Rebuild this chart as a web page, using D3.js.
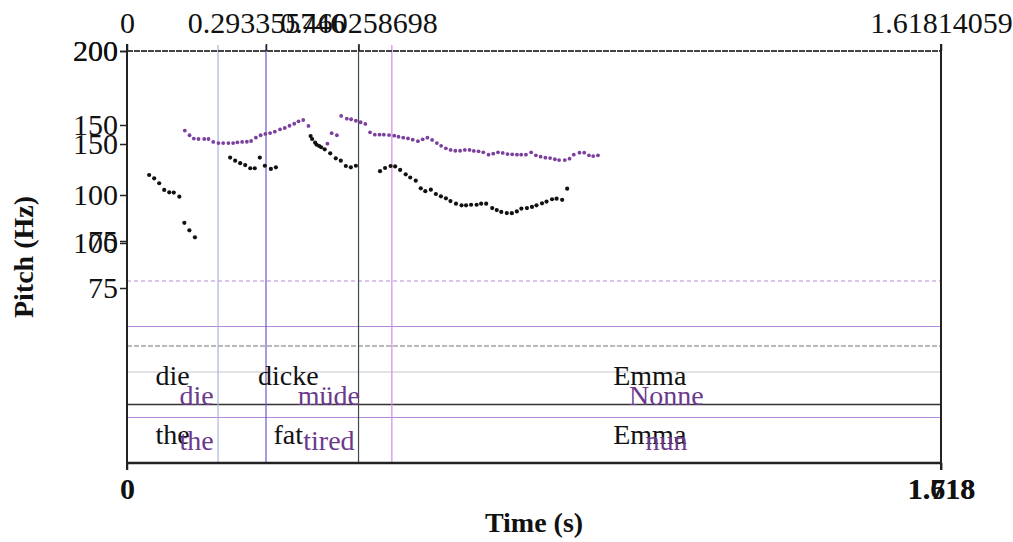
<!DOCTYPE html>
<html>
<head>
<meta charset="utf-8">
<script src="https://cdn.jsdelivr.net/npm/d3@7"></script>
<style>
body { margin: 0; background: #fff; }
text { font-family: "Liberation Serif", "Times New Roman", serif; }
</style>
</head>
<body>
<svg id="chart" width="1013" height="542"></svg>
<script>
// speaker 1 (black) pitch points
var blackTimes = [0.044,0.054,0.064,0.074,0.084,0.093,0.104,0.114,0.124,0.135,
  0.205,0.215,0.225,0.235,0.245,0.254,0.264,0.274,0.286,0.296,
  0.365,0.368,0.374,0.377,0.382,0.386,0.393,0.404,0.415,0.425,0.435,0.445,0.455,
  0.503,0.513,0.524,0.533,0.543,0.554,0.563,0.574,0.584,0.593,0.604,0.614,0.624,0.634,0.643,0.654,0.665,0.674,0.684,0.695,
  0.704,0.714,0.726,0.735,0.744,0.755,0.765,0.775,0.784,0.795,0.805,0.814,0.825,0.834,0.845,0.854,0.865,0.875];
var blackHz = [114.3,111.9,108.4,103.6,101.9,101.7,99.1,84.9,80.8,77.0,
  126.7,124.5,122.7,121.4,119.1,119.1,126.7,120.9,118.6,119.8,
  142.1,140.0,137.4,135.9,135.0,134.1,132.6,129.8,126.2,124.5,120.7,119.8,120.9,
  117.0,119.3,120.7,120.4,117.9,114.8,112.5,110.2,104.8,102.7,103.8,100.7,99.3,98.2,96.7,95.3,94.4,94.4,94.7,94.7,
  95.3,95.3,92.9,91.8,90.8,90.2,90.1,91.1,92.6,92.9,93.5,94.4,95.5,96.4,97.7,98.0,97.4,104.5];

// speaker 2 (purple) pitch points
var purpleTimes = [0.122,0.132,0.141,0.151,0.163,0.172,0.182,0.193,0.203,0.214,0.224,0.233,0.243,0.253,0.262,0.272,0.282,0.292,0.302,0.312,0.323,0.333,0.343,0.353,0.362,0.372,0.383,
  0.423,0.432,0.443,
  0.452,0.464,0.473,0.483,0.493,0.503,
  0.513,0.523,0.533,0.542,0.553,0.564,0.573,0.583,0.593,0.603,0.614,0.624,0.634,0.644,0.654,0.663,0.673,0.683,0.693,0.703,
  0.713,0.723,0.732,0.742,0.752,0.763,0.773,0.783,0.793,0.803,0.813,0.823,0.832,0.842,0.853,0.863,0.873,0.883,0.893,0.903,
  0.912,0.924,0.934,0.943,0.955,0.965,0.975,0.984,0.994];
var purpleHz = [157.2,154.7,152.9,152.7,152.7,152.7,151.1,150.5,150.5,150.5,150.5,150.9,151.1,151.2,151.6,153.4,154.7,155.4,155.9,156.6,157.9,158.6,159.8,160.9,162.2,162.9,159.7,
  150.2,155.8,154.7,
  165.1,163.6,163.3,162.5,161.7,160.8,
  156.3,155.0,155.0,155.0,154.8,154.5,153.9,153.4,153.0,152.3,151.5,152.5,153.4,152.2,150.5,149.1,147.8,147.0,146.6,146.6,
  147.0,147.0,146.5,146.3,145.8,144.6,145.1,145.8,145.5,144.9,144.8,144.6,144.6,144.6,145.8,144.3,143.6,143.1,142.9,142.3,
  141.9,141.9,142.6,144.6,145.6,145.6,144.3,143.9,144.3];

// text grids
var blackDuration = 1.61814059;
var purpleDuration = 1.718;
var blackBounds = [0, 0.181, 0.460258698, blackDuration];
var purpleBounds = [0, 0.293355746, 0.559, purpleDuration];
var blackTier1 = ["die", "dicke", "Emma"];
var blackTier2 = ["the", "fat", "Emma"];
var purpleTier3 = ["die", "müde", "Nonne"];
var purpleTier4 = ["the", "tired", "nun"];

var pitchTicks = [75, 100, 150, 200];
var blackTopTicks = [0, 0.460258698, blackDuration];
var blackTopLabels = ["0", "0.460258698", "1.61814059"];
var purpleTopTicks = [0.293355746];
var purpleTopLabels = ["0.293355746"];
var blackBottomLabels = ["0", "1.618"];
var purpleBottomLabels = ["1.718"];

var svg = d3.select("#chart");
var plotL = 127, plotR = 941, plotT = 51, plotB = 463;
var purple = "#7b3f9e", purpleText = "#6b3a8c";

var xB = d3.scaleLinear().domain([0, blackDuration]).range([plotL, plotR]);
var xP = d3.scaleLinear().domain([0, purpleDuration]).range([plotL, plotR]);
// scanned overlay: the two pitch axes are not quite linear
var yB = d3.scaleLinear().domain([75, 100, 150, 200]).range([241, 195, 125, plotT]);
var yP = d3.scaleLinear().domain([75, 100, 150, 200]).range([288, 243, 144, plotT]);

var tiersB = d3.scaleBand().domain([0, 1]).range([346, plotB]);
var tiersP = d3.scaleBand().domain([0, 1, 2, 3]).range([281, plotB]);

// tier lines
svg.selectAll("line.tp").data(tiersP.domain()).enter().append("line")
  .attr("class", "tp")
  .attr("x1", plotL).attr("x2", plotR)
  .attr("y1", function(d) { return tiersP(d); }).attr("y2", function(d) { return tiersP(d); })
  .attr("stroke", function(d) { return d == 2 ? "#c8c8d0" : "#b48ad8"; })
  .attr("stroke-width", 1.2)
  .attr("stroke-dasharray", function(d) { return d == 0 ? "4,3" : null; });

svg.selectAll("line.tb").data(tiersB.domain()).enter().append("line")
  .attr("class", "tb")
  .attr("x1", plotL).attr("x2", plotR)
  .attr("y1", function(d) { return tiersB(d); }).attr("y2", function(d) { return tiersB(d); })
  .attr("stroke", function(d) { return d == 0 ? "#777" : "#333"; })
  .attr("stroke-width", function(d) { return d == 0 ? 1.2 : 1.6; })
  .attr("stroke-dasharray", function(d) { return d == 0 ? "5,2" : null; });

// boundaries
var blackLineColors = ["#a8b6d8", "#3c4a52"];
var purpleLineColors = ["#6a5ad6", "#d08ae8"];
svg.selectAll("line.bb").data(blackBounds.slice(1, 3)).enter().append("line")
  .attr("class", "bb")
  .attr("x1", function(d) { return xB(d); }).attr("x2", function(d) { return xB(d); })
  .attr("y1", plotT - 6).attr("y2", plotB)
  .attr("stroke", function(d, i) { return blackLineColors[i]; })
  .attr("stroke-width", 1.2);
svg.selectAll("line.pb").data(purpleBounds.slice(1, 3)).enter().append("line")
  .attr("class", "pb")
  .attr("x1", function(d) { return xP(d); }).attr("x2", function(d) { return xP(d); })
  .attr("y1", plotT - 6).attr("y2", plotB)
  .attr("stroke", function(d, i) { return purpleLineColors[i]; })
  .attr("stroke-width", 1.2);

// words
function words(labels, bounds, x, y, color) {
  svg.append("g").selectAll("text").data(labels).enter().append("text")
    .attr("x", function(d, i) { return (x(bounds[i]) + x(bounds[i + 1])) / 2; })
    .attr("y", y + 10)
    .attr("text-anchor", "middle")
    .attr("font-size", 28)
    .attr("fill", color)
    .text(function(d) { return d; });
}
words(blackTier1, blackBounds, xB, tiersB(0) + tiersB.bandwidth() / 2, "#111");
words(purpleTier3, purpleBounds, xP, tiersP(2) + tiersP.bandwidth() / 2, purpleText);
words(blackTier2, blackBounds, xB, tiersB(1) + tiersB.bandwidth() / 2, "#111");
words(purpleTier4, purpleBounds, xP, tiersP(3) + tiersP.bandwidth() / 2, purpleText);

// pitch points
svg.append("g").selectAll("circle").data(purpleTimes).enter().append("circle")
  .attr("cx", function(d) { return xP(d); })
  .attr("cy", function(d, i) { return yP(purpleHz[i]); })
  .attr("r", 1.9)
  .attr("fill", purple);
svg.append("g").selectAll("circle").data(blackTimes).enter().append("circle")
  .attr("cx", function(d) { return xB(d); })
  .attr("cy", function(d, i) { return yB(blackHz[i]); })
  .attr("r", 2.1)
  .attr("fill", "#111");

// frame
svg.append("line").attr("x1", plotL).attr("x2", plotR).attr("y1", plotT).attr("y2", plotT)
  .attr("stroke", "#444").attr("stroke-width", 1.8).attr("stroke-dasharray", "6,1");
svg.append("line").attr("x1", plotL).attr("x2", plotR).attr("y1", plotB).attr("y2", plotB)
  .attr("stroke", "#222").attr("stroke-width", 2.4);
svg.append("line").attr("x1", plotL).attr("x2", plotL).attr("y1", plotT - 7).attr("y2", plotB + 7)
  .attr("stroke", "#222").attr("stroke-width", 2);
svg.append("line").attr("x1", plotR).attr("x2", plotR).attr("y1", plotT - 7).attr("y2", plotB + 7)
  .attr("stroke", "#222").attr("stroke-width", 2);

// axes
function styleAxis(g, weight) {
  g.select(".domain").remove();
  g.selectAll(".tick line").attr("stroke", "#222").attr("stroke-width", 1.5);
  g.selectAll(".tick text").attr("font-size", 30).attr("font-family", "Liberation Serif, serif")
    .attr("font-weight", weight).attr("fill", "#111");
}
svg.append("g").attr("transform", "translate(" + plotL + ",0)")
  .call(d3.axisLeft(yB).tickValues(pitchTicks).tickSize(7).tickPadding(2))
  .call(styleAxis, "normal");
svg.append("g").attr("transform", "translate(" + plotL + ",0)")
  .call(d3.axisLeft(yP).tickValues(pitchTicks).tickSize(7).tickPadding(2))
  .call(styleAxis, "normal");

svg.append("g").attr("transform", "translate(0," + plotT + ")")
  .call(d3.axisTop(xB).tickValues(blackTopTicks).tickSize(7).tickPadding(11)
    .tickFormat(function(d, i) { return blackTopLabels[i]; }))
  .call(styleAxis, "normal");
svg.append("g").attr("transform", "translate(0," + plotT + ")")
  .call(d3.axisTop(xP).tickValues(purpleTopTicks).tickSize(7).tickPadding(11)
    .tickFormat(function(d, i) { return purpleTopLabels[i]; }))
  .call(styleAxis, "normal");

svg.append("g").attr("transform", "translate(0," + plotB + ")")
  .call(d3.axisBottom(xB).tickValues([0, blackDuration]).tickSize(7).tickPadding(8)
    .tickFormat(function(d, i) { return blackBottomLabels[i]; }))
  .call(styleAxis, "bold");
svg.append("g").attr("transform", "translate(0," + plotB + ")")
  .call(d3.axisBottom(xP).tickValues([purpleDuration]).tickSize(7).tickPadding(8)
    .tickFormat(function(d, i) { return purpleBottomLabels[i]; }))
  .call(styleAxis, "bold");

// titles
svg.append("text").attr("x", (plotL + plotR) / 2).attr("y", 532)
  .attr("text-anchor", "middle").attr("font-size", 28).attr("font-weight", "bold")
  .attr("fill", "#111").text("Time (s)");
svg.append("text").attr("transform", "translate(33," + (plotT + plotB) / 2 + ") rotate(-90)")
  .attr("text-anchor", "middle").attr("font-size", 28).attr("font-weight", "bold")
  .attr("fill", "#111").text("Pitch (Hz)");
</script>
</body>
</html>
